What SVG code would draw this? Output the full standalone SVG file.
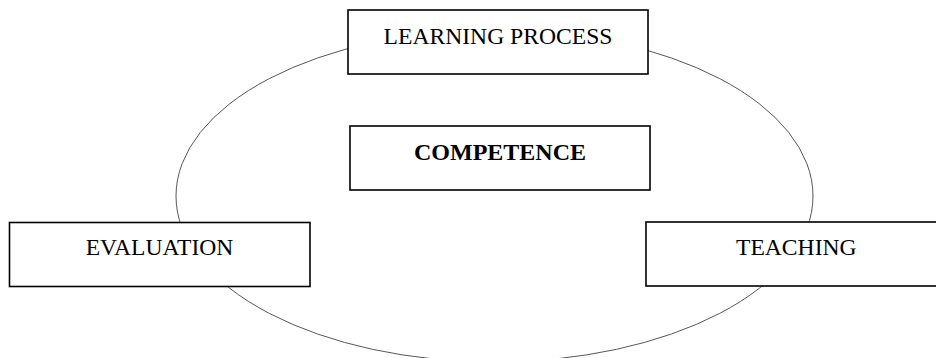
<svg xmlns="http://www.w3.org/2000/svg" width="936" height="358" viewBox="0 0 936 358">
<style>
.box{fill:#fff;stroke:#000;stroke-width:1.6}
.lbl{font-family:"Liberation Serif","Times New Roman",serif;font-size:23.6px;fill:#000;text-anchor:middle}
.bold{font-weight:bold;font-size:24px}
.cyc{fill:none;stroke:#444;stroke-width:0.9}
</style>
<rect width="936" height="358" fill="#fff"/>
<g id="connectors">
<ellipse class="cyc" cx="494.5" cy="196" rx="318.5" ry="166"/>
</g>
<g id="learning">
<rect class="box" x="348" y="10" width="300" height="64"/>
<text class="lbl" x="498" y="43.5">LEARNING PROCESS</text>
</g>
<g id="competence">
<rect class="box" x="350" y="126" width="300" height="64"/>
<text class="lbl bold" x="500" y="159.5">COMPETENCE</text>
</g>
<g id="evaluation">
<rect class="box" x="9.5" y="222.5" width="300.5" height="64"/>
<text class="lbl" x="159.5" y="255">EVALUATION</text>
</g>
<g id="teaching">
<rect class="box" x="646" y="222" width="301" height="64"/>
<text class="lbl" x="796.3" y="254.5">TEACHING</text>
</g>
</svg>
